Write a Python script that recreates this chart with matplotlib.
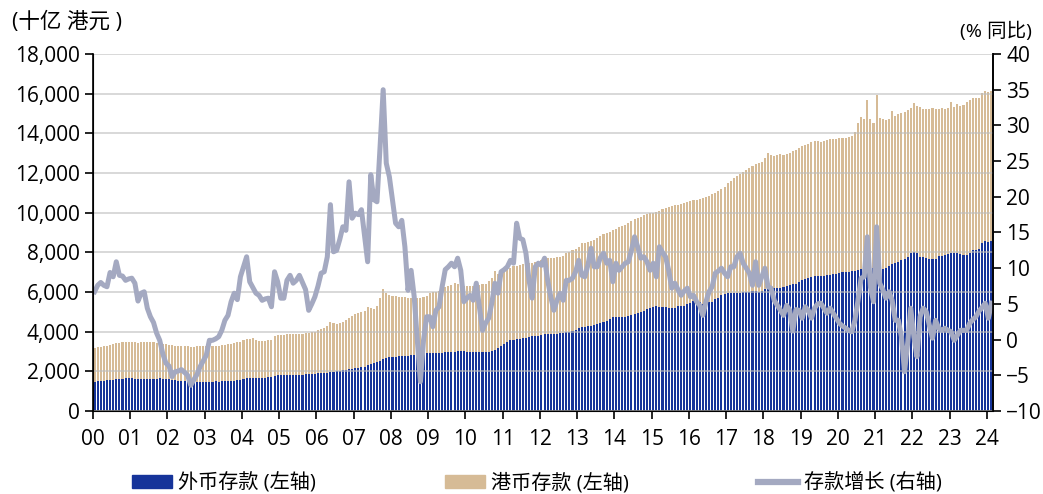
import numpy as np
import matplotlib
matplotlib.use("Agg")
import matplotlib.pyplot as plt
from matplotlib.patches import Patch
from matplotlib.lines import Line2D

plt.rcParams['font.family'] = ['Open Sans', 'Noto Sans CJK SC', 'DejaVu Sans']

# 外币存款 (十亿港元), monthly, Jan 2000 - Feb 2024
fx_dep = [
    1475, 1490, 1500, 1520, 1540, 1560, 1580, 1600, 1610, 1620, 1640, 1640,  # 2000
    1640, 1620, 1610, 1600, 1600, 1610, 1610, 1620, 1620, 1640, 1630, 1610,  # 2001
    1590, 1570, 1540, 1520, 1500, 1490, 1480, 1480, 1470, 1480, 1470, 1480,  # 2002
    1480, 1470, 1480, 1490, 1480, 1500, 1510, 1520, 1520, 1530, 1550, 1580,  # 2003
    1630, 1650, 1660, 1670, 1660, 1660, 1670, 1680, 1690, 1700, 1740, 1790,  # 2004
    1820, 1830, 1820, 1820, 1830, 1820, 1830, 1840, 1850, 1860, 1870, 1880,  # 2005
    1900, 1910, 1920, 1930, 1960, 1980, 2000, 2030, 2060, 2090, 2110, 2140,  # 2006
    2150, 2170, 2200, 2230, 2300, 2380, 2420, 2450, 2500, 2600, 2650, 2700,  # 2007
    2720, 2740, 2750, 2770, 2780, 2790, 2800, 2810, 2820, 2830, 2900, 2940,  # 2008
    2920, 2910, 2900, 2920, 2940, 2950, 2960, 2980, 3000, 3020, 3040, 3050,  # 2009
    3000, 2960, 2950, 2960, 2950, 2960, 2980, 3000, 3040, 3100, 3200, 3290,  # 2010
    3400, 3500, 3560, 3600, 3620, 3650, 3660, 3700, 3740, 3760, 3790, 3800,  # 2011
    3850, 3870, 3880, 3880, 3880, 3900, 3920, 3950, 3970, 4000, 4050, 4080,  # 2012
    4200, 4220, 4250, 4280, 4300, 4350, 4400, 4450, 4500, 4550, 4650, 4720,  # 2013
    4760, 4740, 4730, 4760, 4800, 4830, 4880, 4950, 5000, 5050, 5150, 5200,  # 2014
    5250, 5280, 5260, 5240, 5230, 5210, 5200, 5210, 5280, 5300, 5290, 5370,  # 2015
    5450, 5560, 5520, 5490, 5380, 5400, 5480, 5500, 5650, 5720, 5830, 5880,  # 2016
    5930, 5940, 5950, 5960, 5970, 5990, 6000, 6020, 6050, 6030, 6000, 6060,  # 2017
    6150, 6300, 6250, 6220, 6220, 6220, 6260, 6300, 6340, 6380, 6420, 6500,  # 2018
    6600, 6680, 6700, 6750, 6800, 6810, 6810, 6820, 6850, 6880, 6900, 6920,  # 2019
    6980, 7000, 7010, 7030, 7060, 7080, 7110, 7140, 7180, 7230, 7200, 7200,  # 2020
    7150, 7150, 7180, 7230, 7300, 7400, 7450, 7520, 7600, 7650, 7750, 7980,  # 2021
    8000, 7950, 7780, 7740, 7700, 7680, 7660, 7650, 7800, 7820, 7880, 7900,  # 2022
    7950, 7980, 7950, 7900, 7870, 7850, 7950, 8100, 8130, 8180, 8480, 8570,  # 2023
    8520, 8550,                                                              # 2024
]

total_dep = [
    3200, 3220, 3240, 3260, 3300, 3320, 3380, 3430, 3450, 3480, 3500, 3490,
    3480, 3460, 3450, 3460, 3470, 3480, 3480, 3470, 3450, 3420, 3400, 3380,
    3350, 3320, 3300, 3290, 3280, 3270, 3260, 3250, 3250, 3260, 3270, 3280,
    3270, 3260, 3280, 3290, 3300, 3320, 3340, 3370, 3400, 3430, 3470, 3500,
    3560, 3620, 3650, 3700, 3560, 3540, 3530, 3540, 3560, 3580, 3790, 3820,
    3830, 3850, 3900, 3880, 3860, 3870, 3890, 3900, 3920, 3940, 3960, 3990,
    4080, 4130, 4200, 4280, 4500, 4420, 4400, 4420, 4500, 4600, 4700, 4780,
    4900, 4950, 5000, 5050, 5250, 5200, 5150, 5300, 5680, 6130, 5950, 5850,
    5800, 5780, 5760, 5750, 5730, 5720, 5700, 5690, 5680, 5700, 5760, 5800,
    5960, 5980, 6020, 6040, 6150, 6250, 6300, 6350, 6450, 6420, 6320, 6300,
    6300, 6280, 6300, 6320, 6350, 6380, 6420, 6560, 6700, 7050, 6900, 6880,
    7000, 7150, 7200, 7300, 7300, 7350, 7400, 7400, 7450, 7480, 7500, 7560,
    7600, 7650, 7700, 7730, 7730, 7740, 7740, 7800, 7950, 8000, 8100, 8150,
    8250, 8480, 8450, 8500, 8570, 8600, 8700, 8800, 8900, 8950, 9050, 9150,
    9200, 9270, 9330, 9400, 9500, 9600, 9700, 9750, 9800, 9900, 9950, 10000,
    10000, 10050, 10100, 10200, 10250, 10300, 10350, 10380, 10400, 10450, 10500, 10550,
    10600, 10620, 10650, 10700, 10750, 10800, 10850, 10950, 11000, 11100, 11200, 11300,
    11500, 11600, 11750, 11850, 11950, 12050, 12150, 12250, 12350, 12450, 12500, 12550,
    12750, 13000, 12900, 12850, 12900, 12950, 12900, 12950, 13000, 13100, 13150, 13250,
    13350, 13400, 13450, 13550, 13600, 13590, 13550, 13600, 13650, 13700, 13700, 13700,
    13760, 13750, 13740, 13800, 13850, 14050, 14500, 14800, 14720, 15680, 14720, 14500,
    15930, 14760, 14700, 14680, 14710, 15150, 14880, 14950, 15010, 15100, 15180, 15300,
    15550, 15380, 15320, 15250, 15220, 15210, 15260, 15240, 15210, 15300, 15250, 15300,
    15600, 15350, 15480, 15380, 15450, 15600, 15700, 15770, 15760, 15780, 16020, 16150,
    16100, 16150,
]

# 存款增长 (% 同比)
growth = [
    6.7, 7.6, 8.0, 7.6, 7.4, 9.4, 8.8, 10.9, 9.0, 8.9, 8.3, 8.5,
    8.6, 7.9, 5.4, 6.5, 6.7, 4.4, 3.2, 2.4, 0.9, -0.1, -2.0, -3.3,
    -3.7, -5.2, -4.5, -4.4, -4.2, -4.6, -5.0, -6.4, -5.6, -4.9, -3.8, -3.0,
    -2.2, -0.1, -0.1, 0.1, 0.4, 1.3, 2.7, 3.4, 5.3, 6.5, 5.6, 8.8,
    10.2, 11.6, 8.1, 7.3, 6.5, 6.2, 5.5, 5.7, 5.8, 4.6, 9.5, 8.1,
    5.8, 5.8, 8.3, 9.0, 7.9, 8.3, 9.0, 8.0, 7.0, 4.1, 5.0, 6.0,
    7.5, 9.3, 9.5, 11.6, 18.9, 12.3, 12.5, 14.0, 15.8, 15.3, 22.1, 17.0,
    17.7, 17.5, 18.2, 14.5, 10.9, 23.1, 19.6, 19.3, 27.0, 35.0, 24.7, 22.8,
    19.6, 16.3, 15.8, 16.7, 13.0, 6.9, 9.7, 6.0, -0.1, -5.9, -0.1, 3.2,
    3.2, 1.8, 4.1, 4.6, 7.4, 9.8, 10.2, 10.7, 10.2, 11.4, 9.7, 5.3,
    5.8, 6.2, 5.5, 7.9, 4.6, 1.3, 2.3, 3.0, 5.1, 7.9, 6.5, 9.5,
    9.8, 10.2, 11.1, 10.7, 16.3, 14.2, 14.0, 12.1, 8.3, 5.8, 10.2, 10.7,
    10.4, 11.4, 8.3, 6.0, 4.1, 5.5, 6.5, 5.5, 8.3, 8.3, 8.6, 9.5,
    11.1, 9.0, 8.8, 10.5, 12.8, 10.2, 10.2, 11.5, 12.1, 10.7, 11.1, 8.1,
    10.7, 9.7, 10.2, 10.7, 10.9, 12.5, 14.4, 13.0, 11.4, 11.6, 10.9, 9.7,
    10.7, 8.8, 13.0, 12.2, 11.6, 9.7, 7.2, 7.9, 7.0, 6.2, 6.8, 7.2,
    6.0, 6.2, 5.3, 4.8, 3.4, 5.3, 6.7, 7.4, 9.3, 9.6, 10.0, 9.3,
    8.8, 10.2, 10.2, 11.6, 12.1, 10.7, 10.0, 9.3, 7.6, 10.9, 7.6, 8.8,
    10.0, 7.4, 7.2, 5.5, 4.8, 4.1, 3.4, 4.8, 4.1, 1.2, 4.2, 4.1,
    3.0, 4.6, 4.1, 3.0, 4.4, 5.0, 5.1, 4.4, 3.7, 4.4, 3.7, 3.0,
    2.3, 1.9, 1.6, 1.3, 1.1, 2.7, 5.5, 8.6, 8.8, 14.4, 7.4, 5.3,
    15.8, 7.9, 7.0, 5.8, 6.7, 5.5, 2.7, 2.7, 0.4, -4.5, -0.5, 4.4,
    0.4, -2.4, 3.2, 4.4, 3.9, 2.0, 0.2, 2.7, 1.6, 1.3, 1.6, 1.3,
    1.1, -0.1, 0.6, 1.3, 1.3, 1.3, 2.3, 2.8, 3.2, 4.0, 4.5, 5.1,
    3.0, 5.1,
]

year_labels = ["%02d" % y for y in range(0, 25)]

BLUE = "#16349a"
TAN = "#d6bb96"
LINE = "#a4a9c1"

fx = np.array(fx_dep)
hkd = np.array(total_dep) - fx
m = np.arange(len(fx))

fig = plt.figure(figsize=(10.43, 4.94), dpi=100)
ax = fig.add_axes([93 / 1043, 1 - 411 / 494, 900 / 1043, 357 / 494])

ax.bar(m, fx, width=0.66, color=BLUE, linewidth=0, zorder=1)
ax.bar(m, hkd, width=0.66, bottom=fx, color=TAN, linewidth=0, zorder=1)

ax.set_ylim(0, 18000)
ax.set_yticks(np.arange(0, 18001, 2000))
ax.set_yticklabels(["{:,}".format(v) for v in range(0, 18001, 2000)])
ax.set_xlim(-0.5, len(fx) - 0.5)
ax.set_xticks(np.arange(0, len(fx) + 1, 12) - 0.5)
ax.set_xticklabels(year_labels)
ax.grid(axis="y", color="#bdbdbd", linewidth=1.1, alpha=0.75, zorder=2)
ax.set_axisbelow(False)
ax.tick_params(axis="both", labelsize=15, length=6, width=1.2, colors="black")
ax.tick_params(axis="x", pad=7)
ax.spines["top"].set_visible(False)
for s in ["left", "bottom", "right"]:
    ax.spines[s].set_linewidth(1.2)

ax2 = ax.twinx()
ax2.plot(m, growth, color=LINE, linewidth=3.6, solid_joinstyle="round")
ax2.set_ylim(-10, 40)
ax2.set_yticks(np.arange(-10, 41, 5))
ax2.tick_params(axis="y", labelsize=15, length=6, width=1.2)
ax2.spines["top"].set_visible(False)
ax2.spines["right"].set_linewidth(1.2)

fig.text(12 / 1043, 1 - 22 / 494, "(十亿 港元 )", fontsize=15.5, va="center", ha="left")
fig.text(1032 / 1043, 1 - 31 / 494, "(% 同比)", fontsize=14, va="center", ha="right")

handles = [
    Patch(facecolor=BLUE, edgecolor=BLUE),
    Patch(facecolor=TAN, edgecolor=TAN),
    Line2D([0], [0], color=LINE, linewidth=4.5),
]
labels = ["外币存款 (左轴)", "港币存款 (左轴)", "存款增长 (右轴)"]
fig.legend(handles, labels, loc="center", bbox_to_anchor=(0.515, 1 - 483 / 494),
           ncol=3, frameon=False, fontsize=14.5, handlelength=2.0, handleheight=0.6,
           handletextpad=0.3, columnspacing=6.4)

fig.savefig("out.png", dpi=100)
